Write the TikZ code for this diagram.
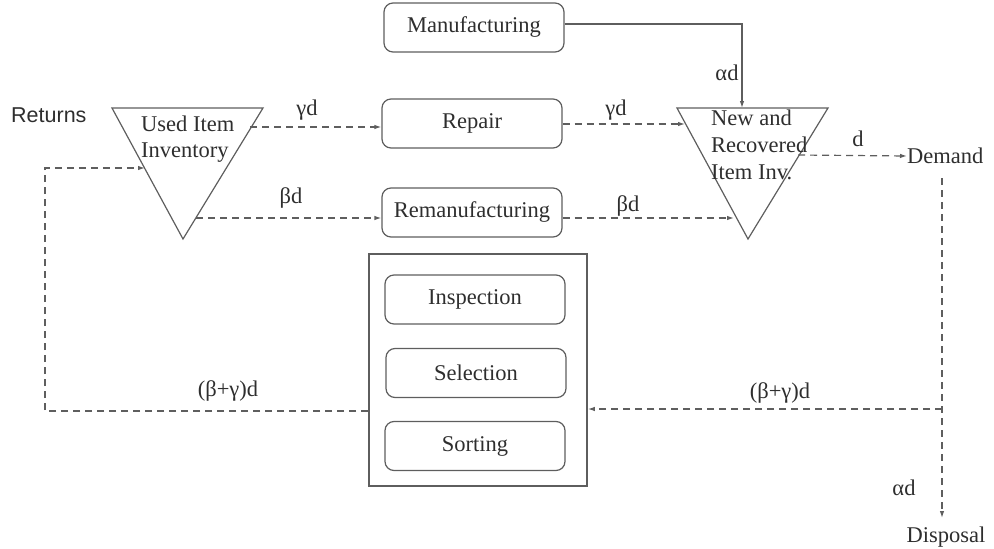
\documentclass[tikz,border=0pt]{standalone}
\usepackage{fontspec}
\setmainfont{Liberation Serif}
\newfontfamily\retfont{Liberation Sans}
\usetikzlibrary{arrows.meta,calc}
\definecolor{ln}{HTML}{5E5E5E}
\definecolor{tx}{HTML}{2E2E2E}
\begin{document}
\begin{tikzpicture}[x=1pt,y=-1pt,
  every node/.style={text=tx,font=\fontsize{22.5}{26}\selectfont},
  procbox/.style={draw=ln,line width=1.2pt,rounded corners=9pt,minimum width=180pt,minimum height=49pt,inner sep=0pt},
  outerbox/.style={draw=ln,line width=1.6pt,minimum width=218pt,minimum height=232pt,inner sep=0pt},
  flow/.style={draw=ln,line width=1.2pt,dash pattern=on 7pt off 5pt,-{Latex[length=7pt,width=4.5pt]}},
  solidflow/.style={draw=ln,line width=1.2pt,-{Latex[length=7pt,width=4.5pt]}},
  lbl/.style={inner sep=0pt},
  tri/.style={draw=ln,line width=1.2pt,line join=miter}
]
\useasboundingbox (0,0) rectangle (994,549);

% process boxes
\node[procbox] (manu) at (474,27.5) {Manufacturing};
\node[procbox] (repair) at (472,123.5) {Repair};
\node[procbox] (reman) at (472,212.5) {Remanufacturing};
\node[outerbox] (big) at (478,370) {};
\node[procbox] (insp) at (475,299.5) {Inspection};
\node[procbox] (sel) at (476,373) {Selection};
\node[procbox] (sort) at (475,446) {Sorting};

% triangles
\coordinate (uTL) at (112,108);
\coordinate (uTR) at (263,108);
\coordinate (uB) at (183,239);
\draw[tri] (uTL) -- (uTR) -- (uB) -- cycle;
\coordinate (nTL) at (677,108);
\coordinate (nTR) at (828,108);
\coordinate (nB) at (748,239);
\draw[tri] (nTL) -- (nTR) -- (nB) -- cycle;

\node[lbl,align=left,anchor=west,font=\fontsize{22.5}{26}\selectfont] (usedtxt) at (141,139) {Used Item\\Inventory};
\node[lbl,align=left,anchor=west,font=\fontsize{22.5}{27}\selectfont] (newtxt) at (711,145) {New and\\Recovered\\Item Inv.};
\node[lbl,anchor=west,font=\retfont\fontsize{21.5}{26}\selectfont] (returns) at (11,115) {Returns};
\node[lbl,anchor=west] (demand) at (907,156) {Demand};
\node[lbl] (disposal) at (946,537) {Disposal};

% connector end points on triangle edges
\coordinate (uR1) at (250,127);
\coordinate (uR2) at (196,218);
\coordinate (uL) at (145,168);
\coordinate (nL1) at (685,124);
\coordinate (nL2) at (734,218);
\coordinate (nR) at (798,155);
\coordinate (nTop) at (742,108);
\coordinate (mcorner) at (742,24);
\coordinate (fbl) at (45,411);
\coordinate (fbtop) at (45,168);
\coordinate (dtop) at (942,178);
\coordinate (br) at (942,409);
\coordinate (dbot) at (942,518);

% flows
\draw[solidflow] (manu.east |- mcorner) -- (mcorner) -- (nTop);
\draw[flow] (uR1) -- (uR1 -| repair.west);
\draw[flow] (repair.east |- nL1) -- (nL1);
\draw[flow] (uR2) -- (uR2 -| reman.west);
\draw[flow] (reman.east |- nL2) -- (nL2);
\draw[flow] (nR) -- (demand.west);
\draw[flow] (dtop) -- (dbot);
\draw[flow] (br) -- (br -| big.east);
\draw[flow] (big.west |- fbl) -- (fbl) -- (fbtop) -- (uL);

% labels
\node[lbl] (l1) at (307,110) {γd};
\node[lbl] (l2) at (616,110) {γd};
\node[lbl] (l3) at (291,198) {βd};
\node[lbl] (l4) at (628,206) {βd};
\node[lbl] (l5) at (858,139) {d};
\node[lbl] (l6) at (727,73) {αd};
\node[lbl] (l7) at (904,488) {αd};
\node[lbl] (l8) at (228,391) {(β+γ)d};
\node[lbl] (l9) at (780,393) {(β+γ)d};
\end{tikzpicture}
\end{document}
